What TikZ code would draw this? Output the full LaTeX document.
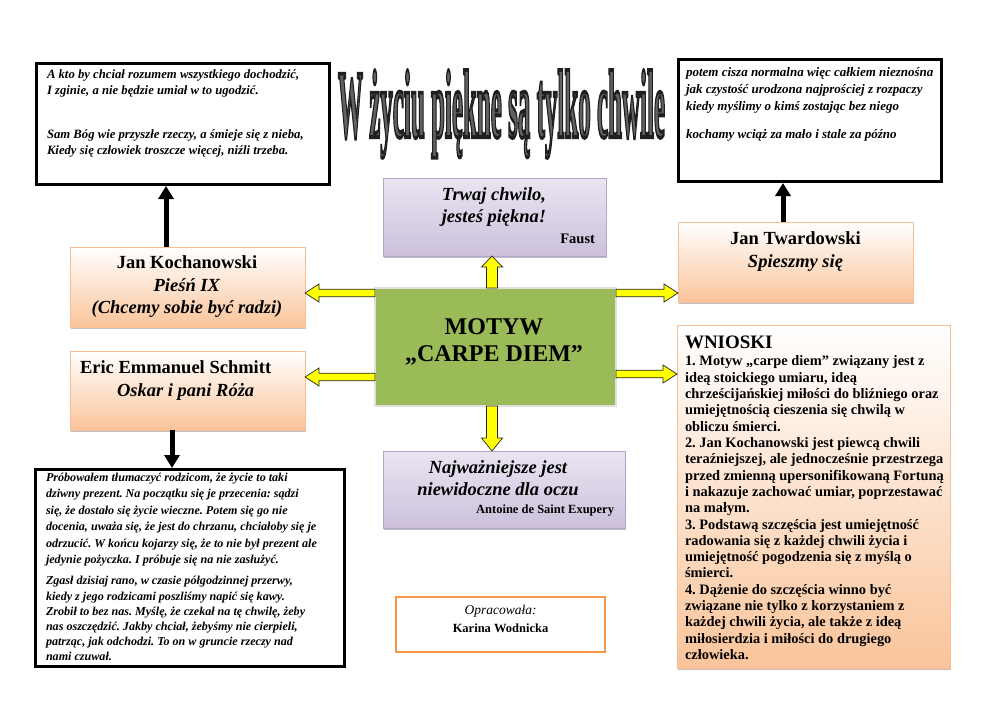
\documentclass[tikz,border=0pt]{standalone}
\usepackage{fontspec}
\setmainfont{Liberation Serif}
\usepackage{graphicx}
\usetikzlibrary{shadows,arrows.meta,calc}
\definecolor{peach}{RGB}{250,196,154}
\definecolor{peachline}{RGB}{249,190,148}
\definecolor{lavtop}{RGB}{234,229,241}
\definecolor{lavbot}{RGB}{204,192,220}
\definecolor{lavline}{RGB}{180,164,200}
\definecolor{olive}{RGB}{155,187,89}
\definecolor{orangeline}{RGB}{247,150,70}
\definecolor{yel}{RGB}{255,255,0}
\definecolor{wafront}{RGB}{98,98,98}
\tikzset{
  box/.style={rectangle, inner sep=0pt, outer sep=0pt},
  blackbox/.style={box, draw=black, line width=3pt, fill=white},
  peachbox/.style={box, draw=peachline, line width=0.8pt, top color=white, bottom color=peach,
     drop shadow={shadow xshift=0.8pt, shadow yshift=-1.8pt, opacity=0.35, fill=black!70}},
  lavbox/.style={box, draw=lavline, line width=0.8pt, top color=lavtop, bottom color=lavbot,
     drop shadow={shadow xshift=0.8pt, shadow yshift=-1.8pt, opacity=0.35, fill=black!70}},
  greenbox/.style={box, draw=black!12, line width=1.5pt, fill=olive},
  orbox/.style={box, draw=orangeline, line width=1.6pt, fill=white},
  txt/.style={inner sep=0pt, outer sep=0pt, text=black},
  blackarrow/.style={line width=5pt, -{Triangle[width=15pt,length=13pt]}},
  yarrowstyle/.style={fill=yel, draw=black!85, line width=0.7pt, line join=miter},
}
\newcommand{\yarrow}[5]{%
  \coordinate (yaH) at ($(#2)!#5!(#1)$);
  \filldraw[yarrowstyle] ($(#1)!#3!90:(#2)$) -- ($(yaH)!#3!90:(#2)$) -- ($(yaH)!#4!90:(#2)$) -- (#2)
    -- ($(yaH)!#4!-90:(#2)$) -- ($(yaH)!#3!-90:(#2)$) -- ($(#1)!#3!-90:(#2)$) -- cycle;
}
\begin{document}
\frenchspacing
\begin{tikzpicture}[x=1pt,y=-1pt]
\useasboundingbox[fill=white] (0,0) rectangle (992,701);

% ---- title word art (filled and outlined text)
\node[txt, anchor=north west, text=wafront] (title) at (338,70) {\resizebox*{327pt}{88pt}{\bfseries
  \special{pdf:literal direct 2 Tr 0.4 w 0.12 G}W życiu piękne są tylko chwile\special{pdf:literal direct 0 Tr}}};

% ---- boxes
\node[blackbox, minimum width=293pt, minimum height=121pt] (tl) at (183,124) {};
\node[blackbox, minimum width=263pt, minimum height=122pt] (tr) at (810,120.5) {};
\node[lavbox, minimum width=223pt, minimum height=78pt] (trwaj) at (494.5,217) {};
\node[peachbox, minimum width=235pt, minimum height=80pt] (koch) at (187.5,287) {};
\node[peachbox, minimum width=235pt, minimum height=80pt] (tward) at (795.5,262) {};
\node[greenbox, minimum width=241pt, minimum height=118pt] (motyw) at (495.5,347) {};
\node[peachbox, minimum width=235pt, minimum height=79pt] (schmitt) at (187.5,390.5) {};
\node[peachbox, minimum width=273pt, minimum height=343pt] (wnioski) at (813.5,496.5) {};
\node[lavbox, minimum width=242pt, minimum height=77pt] (najw) at (504,489.5) {};
\node[blackbox, minimum width=309pt, minimum height=197pt] (bl) at (190,568) {};
\node[orbox, minimum width=209pt, minimum height=55pt] (oprac) at (500.5,624.5) {};

% ---- texts
\node[txt, anchor=north west, align=left, font=\fontsize{12.7}{16}\selectfont\bfseries\itshape] (tltext) at (47,70)
 {A kto by chciał rozumem wszystkiego dochodzić,\\
  I zginie, a nie będzie umiał w to ugodzić.\\[28pt]
  Sam Bóg wie przyszłe rzeczy, a śmieje się z nieba,\\
  Kiedy się człowiek troszcze więcej, niźli trzeba.};

\node[txt, anchor=north west, align=left, font=\fontsize{13}{17}\selectfont\bfseries\itshape] (trtext) at (686,67)
 {potem cisza normalna więc całkiem nieznośna\\
  jak czystość urodzona najprościej z rozpaczy\\
  kiedy myślimy o kimś zostając bez niego\\[11pt]
  kochamy wciąż za mało i stale za późno};

\node[txt, anchor=north, align=center, font=\fontsize{18.5}{21.5}\selectfont\bfseries\itshape] (trwajtext) at (494,188)
 {Trwaj chwilo,\\ jesteś piękna!};
\node[txt, anchor=base east, font=\fontsize{14.5}{16}\selectfont\bfseries] (faust) at (595,243) {Faust};

\node[txt, anchor=north, align=center, font=\fontsize{18.5}{22.5}\selectfont] (kochtext) at (187,256)
 {\textbf{Jan Kochanowski}\\ \textbf{\textit{Pieśń IX}}\\ \textbf{\textit{(Chcemy sobie być radzi)}}};

\node[txt, anchor=north, align=center, font=\fontsize{18.5}{22.5}\selectfont] (twardtext) at (795.5,232)
 {\textbf{Jan Twardowski}\\ \textbf{\textit{Spieszmy się}}};

\node[txt, anchor=north west, align=left, font=\fontsize{18.5}{22.5}\selectfont] (schtext) at (80,361)
 {\textbf{Eric Emmanuel Schmitt}\\ \hspace*{37pt}\textbf{\textit{Oskar i pani Róża}}};

\node[txt, align=center, font=\fontsize{24}{26.5}\selectfont\bfseries] (motywtext) at (494,342)
 {MOTYW\\ „CARPE DIEM”};

\node[txt, anchor=north, align=center, font=\fontsize{18.5}{22}\selectfont\bfseries\itshape] (najwtext) at (498,460)
 {Najważniejsze jest\\ niewidoczne dla oczu};
\node[txt, anchor=base east, font=\fontsize{12.5}{14}\selectfont\bfseries] (exup) at (614,513) {Antoine de Saint Exupery};

\node[txt, anchor=north, align=center, font=\fontsize{13.5}{18}\selectfont] (opractext) at (500.5,605)
 {\textit{Opracowała:}\\ \fontsize{12.5}{14}\selectfont\textbf{Karina Wodnicka}};

\node[txt, anchor=north west, align=left, font=\fontsize{19}{20}\selectfont\bfseries] (wntitle) at (685,336) {WNIOSKI};
\node[txt, anchor=north west, align=left, font=\fontsize{14.4}{16.3}\selectfont\bfseries] (wntext) at (685,356)
 {1. Motyw „carpe diem” związany jest z\\
  ideą stoickiego umiaru, ideą\\
  chrześcijańskiej miłości do bliźniego oraz\\
  umiejętnością cieszenia się chwilą w\\
  obliczu śmierci.\\
  2. Jan Kochanowski jest piewcą chwili\\
  teraźniejszej, ale jednocześnie przestrzega\\
  przed zmienną upersonifikowaną Fortuną\\
  i nakazuje zachować umiar, poprzestawać\\
  na małym.\\
  3. Podstawą szczęścia jest umiejętność\\
  radowania się z każdej chwili życia i\\
  umiejętność pogodzenia się z myślą o\\
  śmierci.\\
  4. Dążenie do szczęścia winno być\\
  związane nie tylko z korzystaniem z\\
  każdej chwili życia, ale także z ideą\\
  miłosierdzia i miłości do drugiego\\
  człowieka.};

\node[txt, anchor=north west, align=left, font=\fontsize{12.1}{16.4}\selectfont\bfseries\itshape] (bltext) at (46,473)
 {Próbowałem tłumaczyć rodzicom, że życie to taki\\
  dziwny prezent. Na początku się je przecenia: sądzi\\
  się, że dostało się życie wieczne. Potem się go nie\\
  docenia, uważa się, że jest do chrzanu, chciałoby się je\\
  odrzucić. W końcu kojarzy się, że to nie był prezent ale\\
  jedynie pożyczka. I próbuje się na nie zasłużyć.\\[5pt]
  Zgasł dzisiaj rano, w czasie półgodzinnej przerwy,\\[-1.3pt]
  kiedy z jego rodzicami poszliśmy napić się kawy.\\[-1.3pt]
  Zrobił to bez nas. Myślę, że czekał na tę chwilę, żeby\\[-1.3pt]
  nas oszczędzić. Jakby chciał, żebyśmy nie cierpieli,\\[-1.3pt]
  patrząc, jak odchodzi. To on w gruncie rzeczy nad\\[-1.3pt]
  nami czuwał.};

% ---- black arrows
\coordinate (xk) at (166,0);
\coordinate (xt) at (783,0);
\coordinate (xs) at (172,0);
\draw[blackarrow] (koch.north -| xk) -- ([yshift=-1.5pt]tl.south -| xk);
\draw[blackarrow] (tward.north -| xt) -- ([yshift=-1.5pt]tr.south -| xt);
\draw[blackarrow] (schmitt.south -| xs) -- ([yshift=1.5pt]bl.north -| xs);

% ---- yellow block arrows
\coordinate (y1) at (0,293);
\coordinate (y2) at (0,377);
\coordinate (y3) at (0,374);
\coordinate (xv) at (492,0);
\coordinate (l1s) at (motyw.west |- y1);
\coordinate (l1e) at (koch.east |- y1);
\coordinate (l2s) at (motyw.west |- y2);
\coordinate (l2e) at (schmitt.east |- y2);
\coordinate (r1s) at (motyw.east |- y1);
\coordinate (r1e) at (tward.west |- y1);
\coordinate (r2s) at (motyw.east |- y3);
\coordinate (r2e) at (wnioski.west |- y3);
\coordinate (us) at (motyw.north -| xv);
\coordinate (ue) at (trwaj.south -| xv);
\coordinate (ds) at (motyw.south -| xv);
\coordinate (de) at (najw.north -| xv);
\yarrow{l1s}{l1e}{3.8pt}{9pt}{14pt}
\yarrow{l2s}{l2e}{3.8pt}{9pt}{14pt}
\yarrow{r1s}{r1e}{3.8pt}{9pt}{14pt}
\yarrow{r2s}{r2e}{3.8pt}{9pt}{14pt}
\yarrow{us}{ue}{5.5pt}{10.5pt}{11pt}
\yarrow{ds}{de}{5.5pt}{10.5pt}{13pt}
\end{tikzpicture}
\end{document}
